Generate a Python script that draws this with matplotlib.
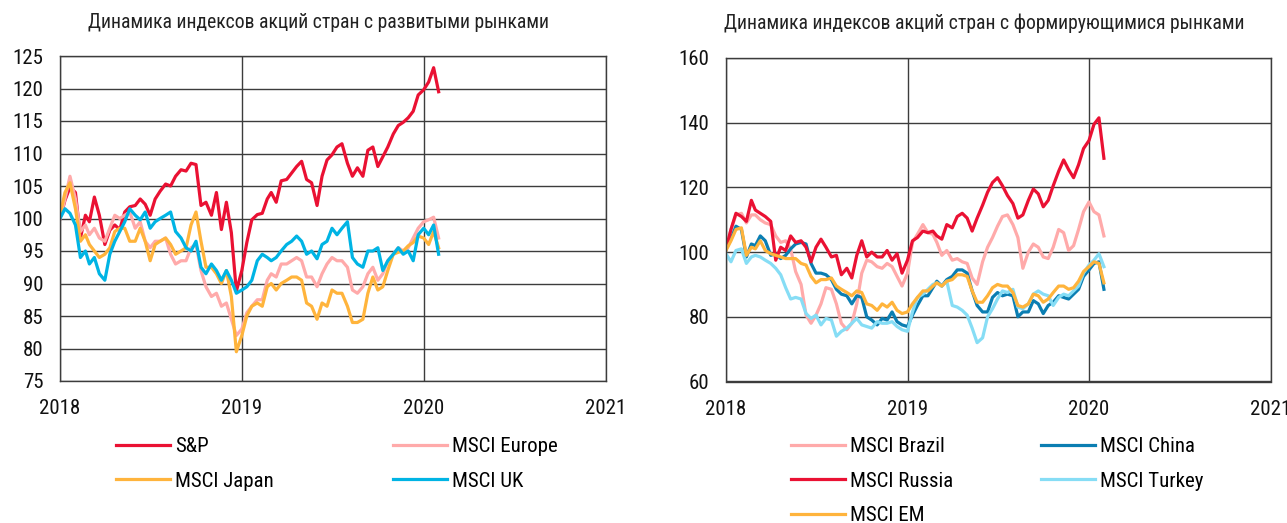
import datetime as dt

import matplotlib
matplotlib.use("Agg")
import matplotlib.pyplot as plt

plt.rcParams['font.family'] = ['Roboto Condensed', 'PT Sans Narrow', 'Fira Sans Condensed',
                               'Open Sans Condensed', 'Liberation Sans Narrow', 'DejaVu Sans']

# sampling dates: 1st, 11th, 21st of each month, Jan 2018 .. Jan 2020
dates = [dt.date(y, m, d) for y in (2018, 2019) for m in range(1, 13) for d in (1, 11, 21)]
dates += [dt.date(2020, 1, 1), dt.date(2020, 1, 11), dt.date(2020, 1, 21), dt.date(2020, 1, 31)]

# developed markets
sp = [100.0, 102.8, 104.8, 104.0, 97.0, 100.5, 99.5, 103.3, 100.5, 96.0, 98.2, 99.0,
      98.3, 101.0, 101.8, 102.0, 103.0, 102.2, 100.5, 103.0, 104.2, 105.3, 105.0, 106.5,
      107.5, 107.3, 108.5, 108.3, 102.0, 102.5, 100.5, 104.0, 98.3, 102.5, 97.8, 88.8,
      92.0, 96.3, 99.8, 100.6, 100.8, 103.0, 104.0, 102.5, 105.8, 106.0, 107.0, 108.0,
      108.8, 106.0, 105.5, 102.0, 106.5, 109.0, 109.8, 111.0, 111.5, 108.5, 106.5, 107.8,
      106.5, 110.5, 111.0, 108.0, 109.5, 111.0, 113.0, 114.3, 114.8, 115.5, 116.5, 119.0,
      119.8, 121.0, 123.2, 119.5]
europe = [100.0, 103.0, 106.5, 103.0, 98.0, 99.0, 97.5, 98.5, 97.0, 96.5, 98.5, 100.5,
          100.0, 100.5, 101.0, 98.5, 99.5, 96.5, 95.5, 96.5, 96.5, 97.0, 94.5, 93.0,
          93.5, 93.5, 95.5, 96.0, 92.0, 89.5, 88.0, 88.5, 86.5, 87.0, 84.5, 82.0,
          83.0, 85.5, 86.5, 87.5, 87.5, 90.5, 91.5, 91.0, 93.0, 93.0, 93.5, 94.0,
          93.5, 91.0, 91.0, 89.5, 91.5, 93.0, 94.0, 93.5, 93.5, 92.5, 89.0, 88.5,
          89.5, 91.5, 92.5, 90.5, 91.5, 93.5, 94.5, 95.5, 95.0, 95.5, 97.0, 98.5,
          99.5, 99.8, 100.2, 97.0]
japan = [100.5, 104.0, 105.5, 101.5, 96.5, 97.5, 96.0, 95.0, 94.0, 94.5, 95.5, 98.0,
         98.5, 98.5, 96.5, 96.5, 98.5, 96.5, 93.5, 96.0, 96.5, 97.0, 96.0, 94.5,
         95.0, 95.5, 99.0, 101.0, 96.5, 92.5, 92.5, 91.5, 90.0, 92.0, 88.0, 79.5,
         82.0, 85.0, 86.5, 87.0, 86.5, 89.5, 90.0, 89.0, 90.0, 90.5, 91.0, 91.0,
         90.5, 87.0, 86.5, 84.5, 87.0, 86.5, 89.0, 88.5, 88.5, 86.5, 84.0, 84.0,
         84.5, 88.5, 91.0, 89.0, 89.5, 92.0, 94.5, 94.8, 95.0, 95.8, 96.3, 97.3,
         97.0, 96.0, 98.0, 95.5]
uk = [100.0, 101.5, 100.8, 99.0, 94.0, 95.0, 93.0, 94.0, 91.5, 90.5, 94.5, 96.5,
      98.0, 99.5, 101.5, 100.5, 99.8, 101.0, 98.5, 99.5, 100.0, 100.5, 101.0, 98.0,
      97.0, 95.5, 95.0, 96.5, 92.5, 91.5, 93.0, 92.0, 90.5, 92.0, 90.5, 88.5,
      89.0, 89.5, 90.5, 93.5, 94.5, 94.0, 93.5, 94.0, 95.0, 96.0, 96.5, 97.3,
      96.5, 94.5, 95.0, 93.8, 96.0, 96.5, 98.5, 97.5, 98.5, 99.5, 94.0, 93.0,
      92.5, 95.0, 95.0, 95.5, 92.0, 93.5, 94.5, 95.5, 94.5, 95.0, 93.5, 97.5,
      98.5, 97.5, 99.0, 94.5]

# emerging markets
brazil = [101.0, 107.0, 111.5, 112.0, 109.0, 111.5, 111.5, 110.0, 109.0, 108.5, 105.0, 103.0,
          103.5, 101.0, 94.0, 90.0, 80.5, 78.0, 80.5, 84.0, 89.0, 88.5, 84.0, 78.0,
          76.0, 78.0, 84.0, 93.5, 97.5, 97.0, 95.5, 95.0, 96.5, 95.5, 92.5, 89.5,
          93.5, 103.0, 105.5, 108.5, 106.0, 105.5, 103.0, 99.0, 100.5, 97.5, 98.0, 97.0,
          96.5, 92.0, 90.0, 97.0, 101.5, 104.5, 108.0, 111.0, 111.5, 108.5, 104.5, 95.0,
          100.0, 102.5, 101.5, 98.5, 98.0, 101.5, 107.0, 106.0, 100.5, 102.0, 107.0, 112.5,
          115.5, 112.5, 111.5, 105.0]
china = [101.0, 104.0, 108.0, 107.0, 98.5, 102.5, 102.0, 105.0, 103.5, 99.0, 99.5, 98.0,
         99.0, 101.0, 102.5, 103.0, 102.5, 96.5, 93.5, 93.5, 93.0, 91.5, 88.5, 87.0,
         86.5, 84.0, 86.5, 86.0, 80.0, 79.0, 77.5, 79.5, 79.0, 81.5, 78.5, 77.5,
         77.0, 80.5, 83.5, 86.5, 86.5, 89.0, 91.0, 89.5, 91.5, 92.5, 94.5, 94.5,
         93.5, 88.0, 83.5, 81.5, 81.5, 86.0, 87.5, 86.5, 87.0, 86.5, 80.0, 81.5,
         81.5, 85.0, 84.0, 81.0, 83.5, 84.5, 86.5, 86.0, 85.5, 87.0, 88.5, 92.5,
         94.5, 96.5, 97.0, 88.5]
russia = [101.0, 107.0, 112.0, 111.0, 109.5, 116.0, 113.0, 112.0, 111.0, 109.5, 97.5, 101.5,
          100.5, 105.0, 103.0, 103.5, 101.5, 97.0, 101.5, 104.0, 101.5, 98.5, 99.0, 93.0,
          95.0, 92.0, 99.0, 103.5, 98.5, 100.0, 98.5, 98.5, 100.5, 97.5, 99.5, 93.5,
          97.5, 103.5, 104.5, 106.5, 106.0, 106.5, 105.0, 104.0, 108.5, 107.5, 111.0, 112.0,
          110.5, 106.5, 110.5, 114.5, 118.5, 121.5, 123.0, 120.5, 117.5, 115.0, 110.5, 111.5,
          116.0, 119.5, 118.0, 114.0, 116.0, 120.5, 125.0, 128.5, 125.5, 123.0, 127.0, 132.0,
          134.5, 139.5, 141.5, 129.0]
turkey = [99.5, 97.0, 100.5, 101.0, 96.5, 98.5, 99.0, 98.5, 97.5, 96.5, 95.0, 93.0,
          89.0, 85.5, 86.0, 85.5, 81.0, 79.5, 80.5, 77.5, 79.5, 79.0, 74.0, 75.5,
          76.5, 78.0, 79.5, 77.5, 77.0, 76.5, 78.5, 78.0, 78.0, 78.5, 77.0, 76.0,
          75.5, 81.5, 86.0, 87.0, 88.5, 90.0, 90.5, 89.5, 91.0, 83.5, 83.0, 82.0,
          80.5, 76.5, 72.0, 73.5, 80.0, 82.5, 85.5, 88.0, 87.5, 88.5, 83.0, 82.5,
          84.0, 87.0, 88.0, 87.0, 86.5, 83.5, 86.0, 87.0, 86.5, 88.0, 89.5, 93.5,
          96.0, 97.5, 99.5, 95.5]
em = [100.5, 103.5, 107.0, 107.5, 99.0, 101.5, 101.0, 103.5, 100.5, 99.5, 99.0, 98.5,
      98.0, 98.0, 98.0, 96.5, 96.0, 92.5, 90.5, 91.5, 91.5, 92.0, 89.5, 88.5,
      87.5, 86.5, 88.0, 87.5, 84.0, 83.5, 82.0, 84.0, 83.0, 84.5, 82.0, 81.0,
      81.5, 84.0, 86.0, 88.0, 88.0, 89.5, 90.5, 89.5, 91.0, 91.5, 93.0, 93.0,
      92.5, 88.0, 84.5, 84.5, 86.5, 89.0, 90.0, 89.5, 89.5, 87.5, 83.5, 83.0,
      84.0, 87.0, 86.5, 84.5, 85.5, 87.5, 89.5, 89.5, 88.5, 89.0, 91.0, 94.0,
      95.5, 97.0, 96.5, 90.5]

years = [dt.date(2018, 1, 1), dt.date(2019, 1, 1), dt.date(2020, 1, 1), dt.date(2021, 1, 1)]
year_labels = ["2018", "2019", "2020", "2021"]

RED = "#EA1133"
PINK = "#FFAAAA"
ORANGE = "#FFB43C"
BLUE = "#00B4E4"
TEAL = "#0B7EB2"
LBLUE = "#86DDF5"
GRID = "#3C3C3C"
LW = 2.3


def style_axes(ax, yticks):
    ax.set_xlim(years[0], years[-1])
    ax.set_ylim(yticks[0], yticks[-1])
    ax.set_yticks(yticks)
    ax.set_xticks(years)
    ax.set_xticklabels(year_labels)
    ax.grid(True, color=GRID, lw=1.0)
    ax.set_axisbelow(True)
    for s in ax.spines.values():
        s.set_color(GRID)
        s.set_linewidth(1.0)
    ax.tick_params(axis='y', length=0, pad=12, labelsize=15, colors='#111111')
    ax.tick_params(axis='x', length=0, pad=13, labelsize=15, colors='#111111')


fig = plt.figure(figsize=(12.87, 5.23), dpi=100)

ax1 = fig.add_axes([60 / 1287, 1 - 381 / 523, 546 / 1287, 325 / 523])
l_sp, = ax1.plot(dates, sp, color=RED, lw=LW, label="S&P")
l_eu, = ax1.plot(dates, europe, color=PINK, lw=LW, label="MSCI Europe")
l_jp, = ax1.plot(dates, japan, color=ORANGE, lw=LW, label="MSCI Japan")
l_uk, = ax1.plot(dates, uk, color=BLUE, lw=LW, label="MSCI UK")
style_axes(ax1, list(range(75, 126, 5)))

ax2 = fig.add_axes([726 / 1287, 1 - 381.5 / 523, 545 / 1287, 323.5 / 523])
l_br, = ax2.plot(dates, brazil, color=PINK, lw=LW, label="MSCI Brazil")
l_cn, = ax2.plot(dates, china, color=TEAL, lw=LW, label="MSCI China")
l_ru, = ax2.plot(dates, russia, color=RED, lw=LW, label="MSCI Russia")
l_tr, = ax2.plot(dates, turkey, color=LBLUE, lw=LW, label="MSCI Turkey")
l_em, = ax2.plot(dates, em, color=ORANGE, lw=LW, label="MSCI EM")
style_axes(ax2, list(range(60, 161, 20)))

fig.text(319 / 1287, 1 - 23 / 523, "Динамика индексов акций стран с развитыми рынками",
         ha='center', va='center', fontsize=14.2, color='#222222')
fig.text(984 / 1287, 1 - 23 / 523, "Динамика индексов акций стран с формирующимися рынками",
         ha='center', va='center', fontsize=14.2, color='#222222')

leg_kw = dict(ncol=2, frameon=False, fontsize=15, handlelength=2.6, handletextpad=0.25,
              labelspacing=0.75, borderpad=0, borderaxespad=0, loc='upper left')
fig.legend([l_sp, l_jp, l_eu, l_uk], ["S&P", "MSCI Japan", "MSCI Europe", "MSCI UK"],
           bbox_to_anchor=(116 / 1287, 1 - 437 / 523), columnspacing=5.7, **leg_kw)
fig.legend([l_br, l_ru, l_em, l_cn, l_tr],
           ["MSCI Brazil", "MSCI Russia", "MSCI EM", "MSCI China", "MSCI Turkey"],
           bbox_to_anchor=(791 / 1287, 1 - 437 / 523), columnspacing=4.2, **leg_kw)

fig.savefig("out.png", dpi=100)
